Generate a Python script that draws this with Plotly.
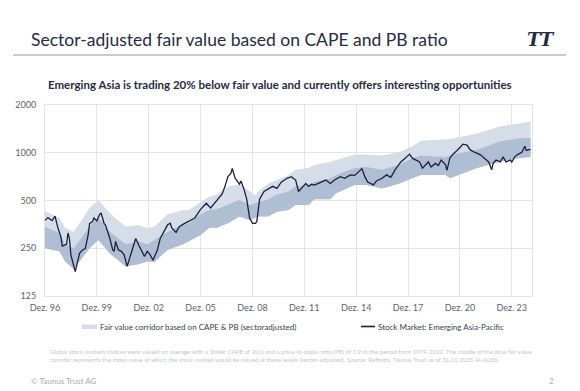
import math
import plotly.graph_objects as go

# ---------------- data ----------------
stock_dates = [
    "1996-12", "1997-02", "1997-05", "1997-07", "1997-09", "1997-11", "1997-12",
    "1998-03", "1998-04", "1998-05", "1998-06", "1998-07", "1998-09", "1998-12",
    "1999-02", "1999-04", "1999-06", "1999-07", "1999-09", "1999-10", "1999-12",
    "2000-02", "2000-03", "2000-04", "2000-05", "2000-06", "2000-09", "2000-11", "2000-12",
    "2001-01", "2001-03", "2001-05", "2001-07", "2001-09", "2001-12",
    "2002-03", "2002-05", "2002-07", "2002-09", "2002-11",
    "2003-01", "2003-03", "2003-06", "2003-08", "2003-10",
    "2004-01", "2004-03", "2004-04", "2004-07", "2004-09", "2004-12",
    "2005-04", "2005-08", "2005-12",
    "2006-03", "2006-04", "2006-07", "2006-10",
    "2007-01", "2007-03", "2007-05", "2007-06", "2007-07", "2007-09", "2007-10", "2007-12",
    "2008-03", "2008-04", "2008-06", "2008-08", "2008-09", "2008-10", "2008-12",
    "2009-02", "2009-03", "2009-04", "2009-05", "2009-08", "2009-11",
    "2010-02", "2010-05", "2010-08", "2010-12",
    "2011-03", "2011-06", "2011-08", "2011-10",
    "2012-01", "2012-03", "2012-05", "2012-07", "2012-11",
    "2013-03", "2013-06", "2013-09",
    "2014-01", "2014-04", "2014-08", "2014-11",
    "2015-04", "2015-06", "2015-08", "2015-12",
    "2016-02", "2016-06", "2016-09", "2016-12",
    "2017-03", "2017-07", "2017-10",
    "2018-01", "2018-03", "2018-06", "2018-08", "2018-10", "2018-12",
    "2019-02", "2019-04", "2019-07", "2019-09", "2019-11",
    "2020-02", "2020-03", "2020-05", "2020-07", "2020-10",
    "2021-01", "2021-02", "2021-05", "2021-07", "2021-10",
    "2022-02", "2022-05", "2022-08", "2022-10", "2022-11",
    "2023-01", "2023-04", "2023-06", "2023-08", "2023-11", "2023-12",
    "2024-02", "2024-04", "2024-07", "2024-09", "2024-10", "2024-12", "2025-01",
]
stock_values = [
    375, 390, 373, 398, 335, 296, 258,
    265, 312, 288, 227, 210, 178, 232,
    244, 249, 303, 359, 367, 388, 372,
    410, 415, 388, 359, 350, 288, 244, 239,
    276, 244, 239, 227, 192, 239,
    288, 263, 244, 222, 239,
    227, 210, 244, 288, 312,
    350, 359, 336, 315, 341, 355,
    370, 388, 440,
    469, 480, 449, 488,
    528, 550, 614, 653, 707, 741, 795, 690,
    633, 664, 594, 510, 449, 388, 359,
    359, 367, 449, 510, 570, 588,
    614, 596, 653, 690,
    707, 673, 570, 596,
    640, 614, 633, 626, 653,
    673, 640, 673,
    707, 690, 725, 720,
    795, 707, 653, 627,
    664, 690, 725, 700,
    780, 875, 924,
    980, 924, 900, 875, 800, 840,
    875, 814, 857, 831, 900,
    840, 774, 924, 974, 1034,
    1115, 1132, 1116, 1046, 1008,
    974, 924, 875, 780, 857,
    900, 875, 942, 875, 900, 875,
    942, 974, 1008, 1100, 1035, 1050, 1050,
]

band_dates = [
    "1996-12", "1997-10", "1998-02", "1998-08", "1999-07", "2000-01", "2000-09",
    "2001-08", "2002-05", "2002-11", "2003-04", "2004-01", "2004-12", "2005-04",
    "2005-12", "2006-06", "2006-11", "2007-07", "2008-03", "2008-10", "2009-02",
    "2009-04", "2009-11", "2010-05", "2011-01", "2011-06", "2012-03", "2012-07",
    "2013-06", "2013-10", "2014-11", "2015-07", "2016-06", "2017-06", "2018-03",
    "2018-09", "2020-02", "2020-05", "2020-07", "2021-12", "2023-03", "2024-04",
    "2025-01",
]
band_upper = [
    430, 388, 335, 317, 449, 504, 416,
    341, 350, 335, 341, 410, 436, 436,
    488, 528, 545, 610, 633, 570, 540,
    570, 641, 673, 725, 780, 800, 841,
    875, 900, 974, 974, 960, 1008, 1100,
    1192, 1205, 1220, 1230, 1320, 1460, 1530,
    1575,
]
band_mid = [
    341, 312, 265, 250, 341, 388, 317,
    265, 276, 265, 282, 317, 350, 359,
    410, 436, 440, 470, 504, 469, 480,
    488, 510, 545, 570, 614, 626, 653,
    690, 725, 800, 814, 780, 841, 924,
    960, 940, 960, 974, 1046, 1172, 1230,
    1240,
]
band_lower = [
    250, 239, 206, 185, 250, 282, 232,
    192, 198, 206, 205, 244, 265, 276,
    303, 335, 335, 360, 396, 377, 388,
    396, 396, 425, 436, 469, 469, 510,
    510, 556, 627, 627, 596, 640, 690,
    725, 725, 690, 700, 800, 875, 924,
    940,
]

tick_dates = ["1996-12-01", "1999-12-01", "2002-12-01", "2005-12-01", "2008-12-01",
              "2011-12-01", "2014-12-01", "2017-12-01", "2020-12-01", "2023-12-01"]
tick_labels = ["Dez. 96", "Dez. 99", "Dez. 02", "Dez. 05", "Dez. 08",
               "Dez. 11", "Dez. 14", "Dez. 17", "Dez. 20", "Dez. 23"]
y_ticks = [125, 250, 500, 1000, 2000]

band_name = "Fair value corridor based on CAPE & PB (sectoradjusted)"
line_name = "Stock Market: Emerging Asia-Pacific"

# ---------------- styling ----------------
W, H = 580, 391
L, R, T, B = 45, 48, 105, 95
FONT = "Lato"
NAVY = "#272a45"
LIGHT = "#d5dde8"
DARK = "#afbed2"
LINE = "#1c2040"
GRID = "#e4e4e8"

pw = W - L - R
ph = H - T - B


def px(x):
    return (x - L) / pw


def py(y):
    return (H - B - y) / ph


fig = go.Figure()
# light corridor (lower -> upper)
fig.add_trace(go.Scatter(x=band_dates, y=band_lower, mode="lines",
                         line=dict(width=0, color=LIGHT), showlegend=False,
                         hoverinfo="skip"))
fig.add_trace(go.Scatter(x=band_dates, y=band_upper, mode="lines", fill="tonexty",
                         fillcolor=LIGHT, line=dict(width=0, color=LIGHT),
                         name=band_name, showlegend=False))
# darker inner corridor (lower -> middle)
fig.add_trace(go.Scatter(x=band_dates, y=band_lower, mode="lines",
                         line=dict(width=0, color=DARK), showlegend=False,
                         hoverinfo="skip"))
fig.add_trace(go.Scatter(x=band_dates, y=band_mid, mode="lines", fill="tonexty",
                         fillcolor=DARK, line=dict(width=0, color=DARK),
                         showlegend=False))
# stock market line
fig.add_trace(go.Scatter(x=stock_dates, y=stock_values, mode="lines",
                         line=dict(width=1.3, color=LINE), name=line_name,
                         showlegend=False))

fig.update_layout(
    width=W, height=H,
    margin=dict(l=L, r=R, t=T, b=B, autoexpand=False),
    paper_bgcolor="white", plot_bgcolor="white",
    font=dict(family=FONT, color="#555a66"),
    showlegend=False,
)
fig.update_xaxes(
    type="date", range=["1996-12-01", "2025-01-31"],
    tickmode="array", tickvals=tick_dates, ticktext=tick_labels,
    showgrid=True, gridcolor=GRID, gridwidth=1, zeroline=False,
    showline=True, mirror=True, linecolor=GRID, linewidth=1,
    ticks="", ticklabelstandoff=3,
    tickfont=dict(size=9, color="#5d6170", family=FONT),
)
fig.update_yaxes(
    type="log", range=[math.log10(125), math.log10(2000)],
    tickmode="array", tickvals=y_ticks, ticktext=[str(v) for v in y_ticks],
    showgrid=True, gridcolor=GRID, gridwidth=1, zeroline=False,
    showline=True, mirror=True, linecolor=GRID, linewidth=1,
    ticks="", ticklabelstandoff=6,
    tickfont=dict(size=9, color="#5d6170", family=FONT),
)

shapes = []
annotations = []

# title, rule and logo
annotations.append(dict(text="Sector-adjusted fair value based on CAPE and PB ratio",
                        xref="paper", yref="paper", x=px(29), y=py(40),
                        xanchor="left", yanchor="middle", showarrow=False,
                        font=dict(size=17.5, color=NAVY, family=FONT)))
shapes.append(dict(type="line", xref="paper", yref="paper",
                   x0=px(13), x1=px(566), y0=py(55), y1=py(55),
                   line=dict(color="#b9b9bd", width=1.5)))
annotations.append(dict(text="<i><b>TT</b></i>", xref="paper", yref="paper",
                        x=px(541), y=py(39), xanchor="center", yanchor="middle",
                        showarrow=False,
                        font=dict(size=18, color=NAVY, family="DejaVu Serif")))
# subtitle
annotations.append(dict(text="<b>Emerging Asia is trading 20% below fair value and currently offers interesting opportunities</b>",
                        xref="paper", yref="paper", x=px(280), y=py(85),
                        xanchor="center", yanchor="middle", showarrow=False,
                        font=dict(size=11.5, color=NAVY, family=FONT)))

# manual legend
shapes.append(dict(type="rect", xref="paper", yref="paper",
                   x0=px(82), x1=px(97), y0=py(329), y1=py(324.5),
                   fillcolor=LIGHT, line=dict(width=0)))
annotations.append(dict(text=band_name, xref="paper", yref="paper",
                        x=px(98), y=py(326.5), xanchor="left", yanchor="middle",
                        showarrow=False, font=dict(size=8, color="#3a3d4a", family=FONT)))
shapes.append(dict(type="line", xref="paper", yref="paper",
                   x0=px(361), x1=px(375), y0=py(326.5), y1=py(326.5),
                   line=dict(color=LINE, width=1.6)))
annotations.append(dict(text=line_name, xref="paper", yref="paper",
                        x=px(375.5), y=py(326.5), xanchor="left", yanchor="middle",
                        showarrow=False, font=dict(size=8, color="#3a3d4a", family=FONT)))

# footnote
foot = ("Global stock markets indices were valued on average with a Shiller CAPE of 20.0 and a price-to-book ratio (PB) of 1.9 in the period from 1979-2022. The middle of the blue fair value"
        "<br>corridor represents the index value at which the stock market would be valued at these levels (sector-adjusted). Source: Refinitiv, Taunus Trust as of 31.01.2025 (A-003b).")
annotations.append(dict(text=foot, xref="paper", yref="paper", x=px(48), y=py(355),
                        xanchor="left", yanchor="middle", align="left", showarrow=False,
                        font=dict(size=6.1, color="#c4c6cc", family=FONT)))
annotations.append(dict(text="© Taunus Trust AG", xref="paper", yref="paper",
                        x=px(29), y=py(381), xanchor="left", yanchor="middle",
                        showarrow=False, font=dict(size=8, color="#a8abb3", family=FONT)))
annotations.append(dict(text="2", xref="paper", yref="paper",
                        x=px(551), y=py(381), xanchor="center", yanchor="middle",
                        showarrow=False, font=dict(size=8, color="#a8abb3", family=FONT)))

fig.update_layout(shapes=shapes, annotations=annotations)
fig.write_html("out.html", config={"displayModeBar": False})

# remove the browser's default page margin so the figure sits at the window origin
with open("out.html", "r", encoding="utf-8") as f:
    html = f.read()
html = html.replace("<head>", "<head><style>html,body{margin:0;padding:0;overflow:hidden;}</style>", 1)
with open("out.html", "w", encoding="utf-8") as f:
    f.write(html)
